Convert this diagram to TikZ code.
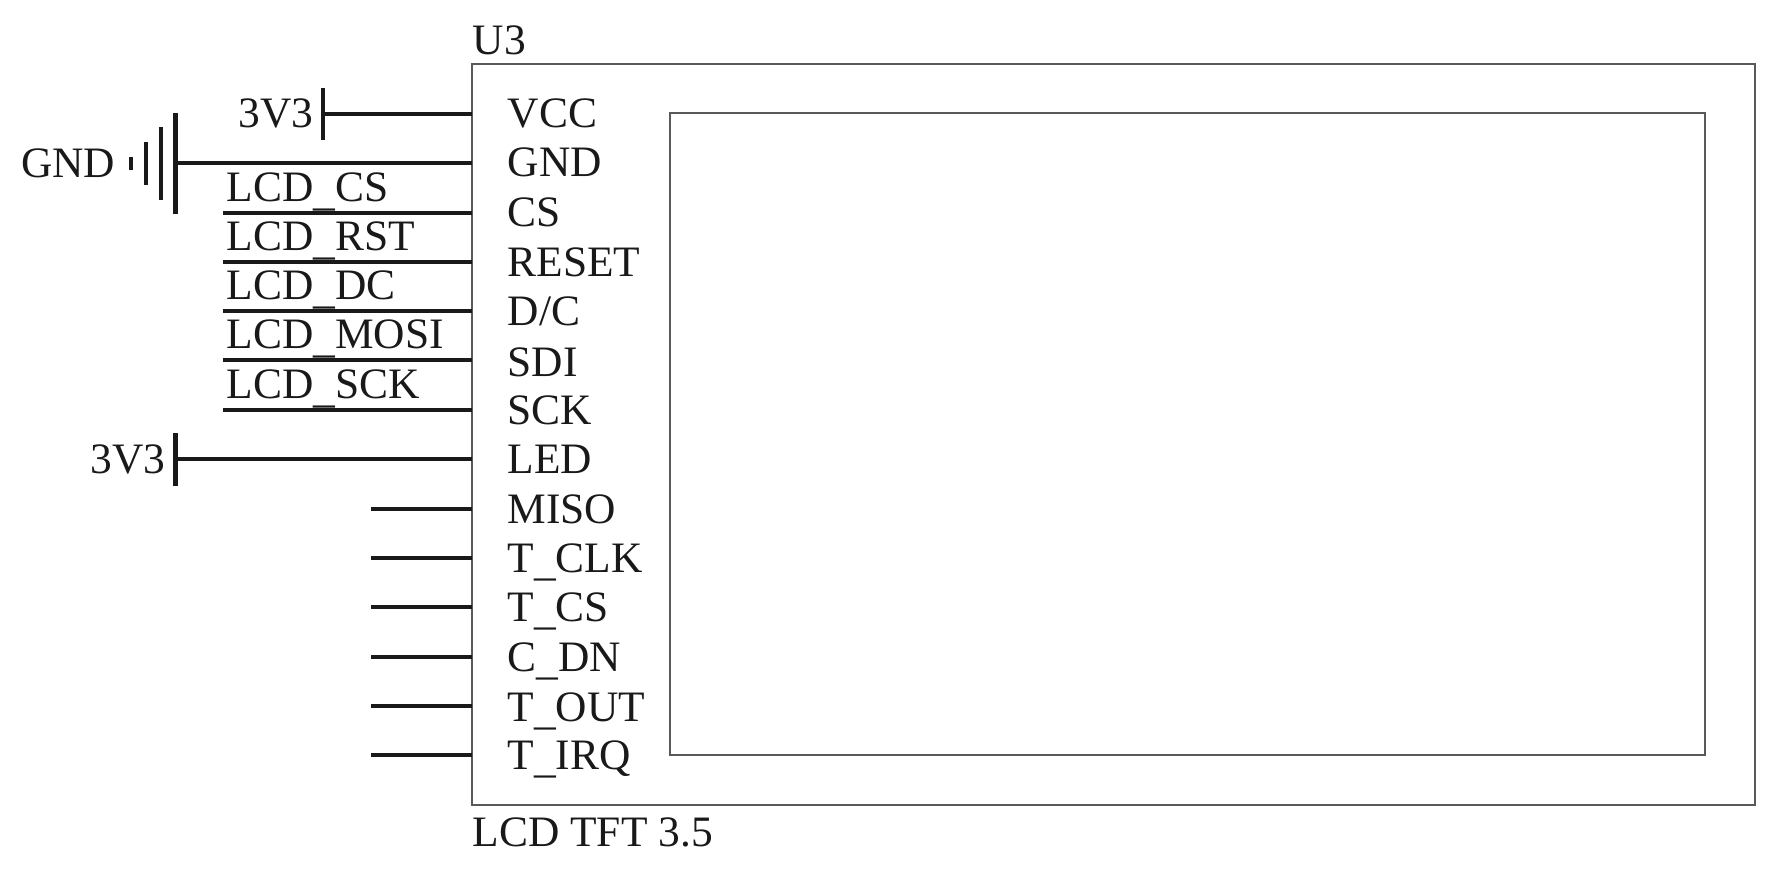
\documentclass[tikz,border=0pt]{standalone}
\usepackage{fontspec}
\setmainfont{Liberation Serif}
\usetikzlibrary{positioning}
\newcommand{\lowbar}{\raisebox{-1pt}{\_}}
\tikzset{
  wire/.style={line width=1.15pt, color=black!90},
  outline/.style={draw=black!65, line width=0.6pt, inner sep=0pt, outer sep=0pt},
  pintext/.style={anchor=base west, inner sep=0pt, font=\fontsize{12.35pt}{14pt}\selectfont, text=black!90},
  nettext/.style={anchor=base east, inner sep=0pt, font=\fontsize{12.35pt}{14pt}\selectfont, text=black!90}
}
\begin{document}
\begin{tikzpicture}[x=0.01cm, y=-0.01cm]
      \useasboundingbox (0,0) rectangle (1779,873);
      \node[outline, minimum width=12.83cm, minimum height=7.41cm] (lcd) at (1113.5,434.5) {};
      \node[outline, minimum width=10.35cm, minimum height=6.42cm] (screen) at (1187.5,434) {};
      \node[pintext] (refdes) at (472,55) {U3};
      \node[pintext] (partname) at (472,846) {LCD TFT 3.5};
      % pin names inside the box
      \foreach \pinname/\y in {VCC/128, GND/177, CS/227, RESET/276, {D/C}/325, SDI/376, SCK/424,
          LED/473, MISO/523, T\lowbar CLK/572, T\lowbar CS/621, C\lowbar DN/671, T\lowbar OUT/721, T\lowbar IRQ/769}
        \node[pintext] at (507,\y) {\pinname};
      % power pins
      \coordinate (vccend) at (323,114);
      \draw[wire] (vccend) -- (lcd.west |- vccend);
      \draw[wire] (323,88) -- (323,140);
      \node[nettext] (vccnet) at (314,128) {3V3};
      \coordinate (ledend) at (175.5,459);
      \draw[wire] (ledend) -- (lcd.west |- ledend);
      \draw[wire] (175.5,433) -- (175.5,486);
      \node[nettext] (lednet) at (166,473) {3V3};
      % ground symbol
      \coordinate (gndend) at (175.5,163);
      \draw[wire] (gndend) -- (lcd.west |- gndend);
      \draw[wire] (175.5,113) -- (175.5,214);
      \draw[wire] (161,127) -- (161,200);
      \draw[wire] (146,142) -- (146,185);
      \draw[wire] (131,157) -- (131,170);
      \node[nettext] (gndnet) at (116,178) {GND};
      % labelled nets
      \foreach \netname/\y in {LCD\lowbar CS/213, LCD\lowbar RST/262, LCD\lowbar DC/311, LCD\lowbar MOSI/360, LCD\lowbar SCK/410} {
        \coordinate (netend) at (223,\y);
        \draw[wire] (netend) -- (lcd.west |- netend);
        \node[pintext] at (226,\y-11.5) {\netname};
      }
      % unconnected pins
      \foreach \y in {509, 558, 607, 657, 706, 755} {
        \coordinate (ncend) at (371,\y);
        \draw[wire] (ncend) -- (lcd.west |- ncend);
      }
    \end{tikzpicture}
\end{document}
